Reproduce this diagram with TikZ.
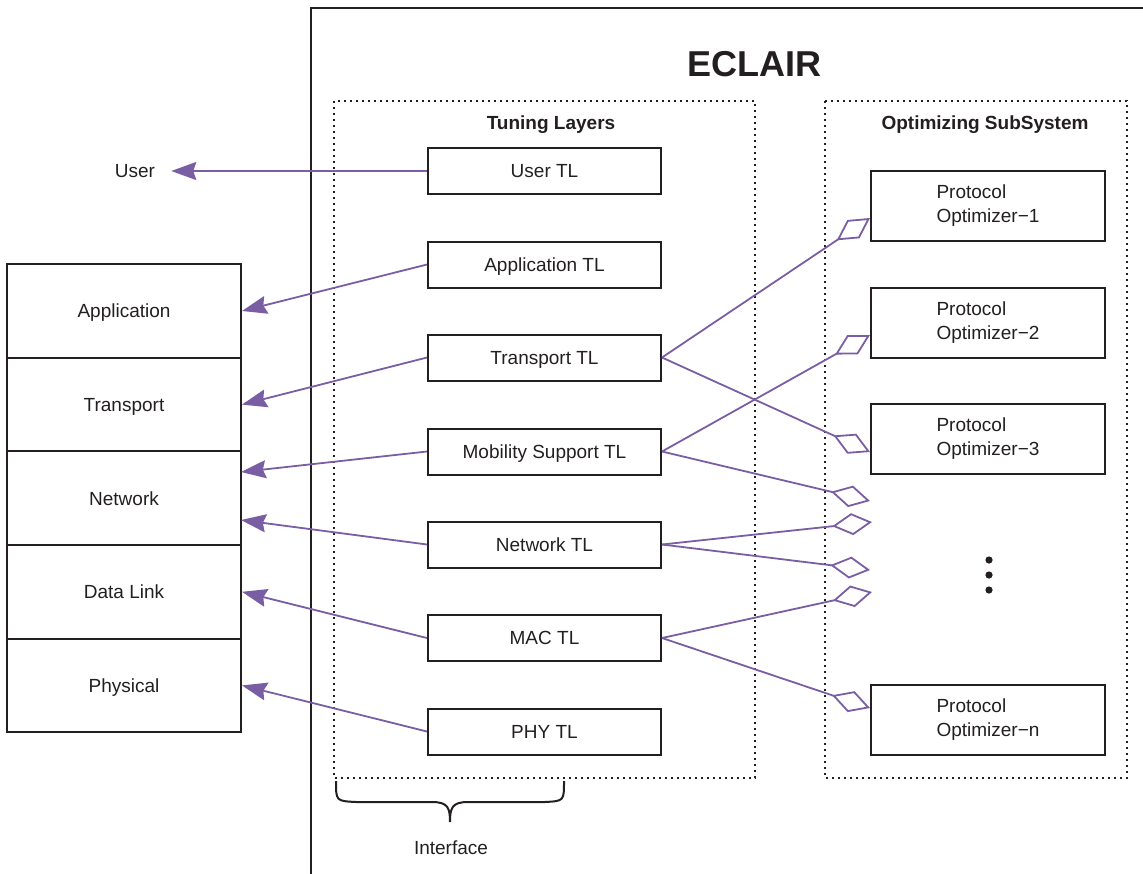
\documentclass[tikz,border=0pt]{standalone}
\usepackage{fontspec}
\setmainfont{Liberation Sans}
\usetikzlibrary{arrows.meta}
\definecolor{ink}{RGB}{35,31,32}
\definecolor{link}{RGB}{122,94,163}

\begin{document}
\begin{tikzpicture}[x=1pt,y=-1pt,
  every node/.style={font=\fontsize{19}{24}\selectfont, text=ink},
  oneline/.style={text height=13.6pt, text depth=0pt},
  tlbox/.style={oneline, draw=ink, line width=2pt, minimum width=233pt, minimum height=46pt, inner sep=0pt},
  layer/.style={oneline, draw=ink, line width=2pt, minimum width=234pt, minimum height=93.6pt, inner sep=0pt},
  optbox/.style={draw=ink, line width=2pt, minimum width=234pt, minimum height=70pt, inner sep=0pt, align=left},
  region/.style={draw=ink, line width=1.7pt, dash pattern=on 1.7pt off 4.3pt},
  heading/.style={font=\fontsize{19}{24}\selectfont\bfseries},
  feed/.style={draw=link, line width=1.8pt, -{Stealth[length=25pt,width=18pt,inset=3pt]}},
  share/.style={draw=link, line width=1.8pt, -{Diamond[open,length=40pt,width=22pt]}}
]
\useasboundingbox (0,0) rectangle (1143,873);

% ECLAIR frame (runs past the right and bottom page edges)
\draw[ink, line width=2pt] (311,890) -- (311,8) -- (1160,8);
\node[font=\fontsize{36}{40}\selectfont\bfseries] (title) at (754,64) {ECLAIR};

% dotted regions
\draw[region] (334,101) rectangle (755,778);
\draw[region] (825,101) rectangle (1127,778);
\node[heading] (tlhead) at (551,125) {Tuning Layers};
\node[heading] (oshead) at (985,125) {Optimizing SubSystem};

% protocol stack
\node[layer] (app) at (124,311.0) {Application};
\node[layer] (trn) at (124,404.6) {Transport};
\node[layer] (net) at (124,498.2) {Network};
\node[layer] (dl)  at (124,591.8) {Data Link};
\node[layer] (phy) at (124,685.4) {Physical};
\node[oneline, inner sep=0pt] (user) at (135,171) {User};

% tuning layers
\node[tlbox] (usertl) at (544.5,171) {User TL};
\node[tlbox] (apptl)  at (544.5,264.5) {Application TL};
\node[tlbox] (trntl)  at (544.5,357.5) {Transport TL};
\node[tlbox] (mobtl)  at (544.5,451.5) {Mobility Support TL};
\node[tlbox] (nettl)  at (544.5,544.5) {Network TL};
\node[tlbox] (mactl)  at (544.5,638) {MAC TL};
\node[tlbox] (phytl)  at (544.5,731.5) {PHY TL};

% protocol optimizers
\node[optbox] (po1) at (988,206) {Protocol\\Optimizer−1};
\node[optbox] (po2) at (988,323) {Protocol\\Optimizer−2};
\node[optbox] (po3) at (988,439) {Protocol\\Optimizer−3};
\node[optbox] (pon) at (988,720) {Protocol\\Optimizer−n};

\fill[ink] (989,560) circle (3.6);
\fill[ink] (989,575) circle (3.6);
\fill[ink] (989,590) circle (3.6);

% open ends of the aggregation links
\coordinate (slotA) at (870,501);
\coordinate (slotB) at (872,522);
\coordinate (slotC) at (870,570);
\coordinate (slotD) at (872,592);
\coordinate (netup) at (241,472);
\coordinate (netlo) at (241,520);

% tuning layers feeding the stack
\draw[feed, shorten >=16pt] (usertl.west) -- (user.east);
\draw[feed] (apptl.west) -- (app.east);
\draw[feed] (trntl.west) -- (trn.east);
\draw[feed] (mobtl.west) -- (netup);
\draw[feed] (nettl.west) -- (netlo);
\draw[feed] (mactl.west) -- (dl.east);
\draw[feed] (phytl.west) -- (phy.east);

% tuning layers shared with optimizers
\draw[share] (trntl.east) -- ([yshift=-12pt]po1.west);
\draw[share] (trntl.east) -- ([yshift=-13pt]po3.west);
\draw[share] (mobtl.east) -- ([yshift=-12pt]po2.west);
\draw[share] (mobtl.east) -- (slotA);
\draw[share] (nettl.east) -- (slotB);
\draw[share] (nettl.east) -- (slotC);
\draw[share] (mactl.east) -- (slotD);
\draw[share] (mactl.east) -- ([yshift=12pt]pon.west);

% interface brace
\draw[ink, line width=2pt] (336,781) .. controls (336,801) .. (356,802) -- (432,802)
  .. controls (448,802) and (450,808) .. (450,822)
  .. controls (450,808) and (452,802) .. (468,802) -- (545,802)
  .. controls (564,801) .. (564,781);
\node (iface) at (451,848) {Interface};
\end{tikzpicture}
\end{document}
